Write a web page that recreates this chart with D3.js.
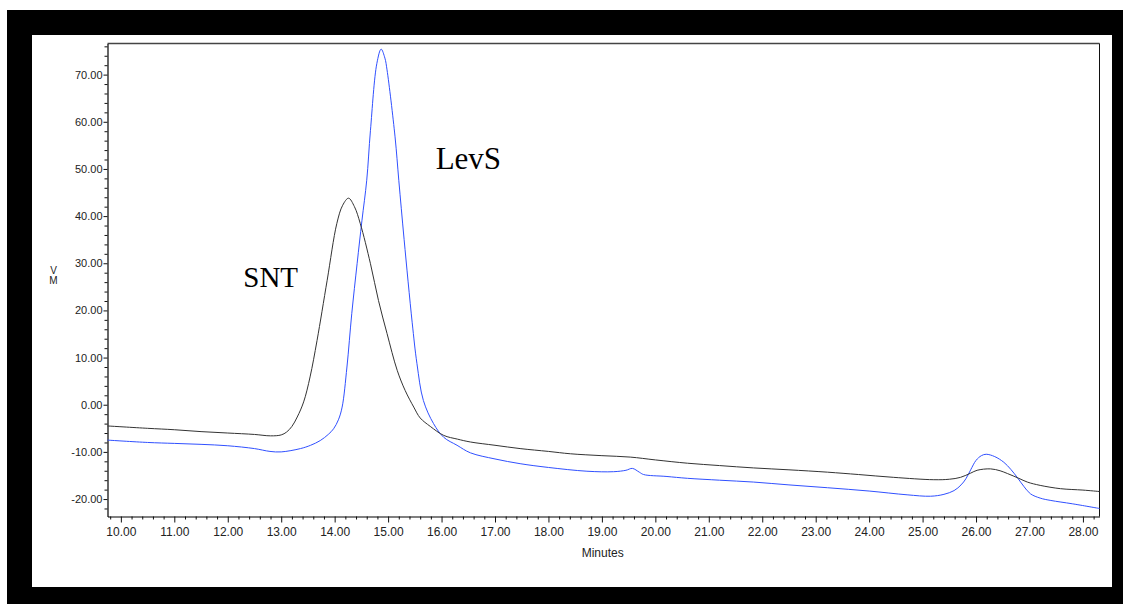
<!DOCTYPE html>
<html>
<head>
<meta charset="utf-8">
<script src="https://cdn.jsdelivr.net/npm/d3@7"></script>
<style>
  html, body { margin: 0; padding: 0; background: #fff; }
  svg { display: block; }
</style>
</head>
<body>
<svg id="chart" width="1123" height="604"></svg>
<script>
// ---- data ----
const snt_t = [9.75, 10.5, 11.0, 11.5, 12.0, 12.5, 12.8, 13.0, 13.1, 13.2, 13.3, 13.42, 13.54, 13.67, 13.86, 14.04, 14.15, 14.26, 14.37, 14.48, 14.67, 14.82, 14.98, 15.17, 15.32, 15.48, 15.6, 15.79, 16.04, 16.3, 16.54, 17.0, 17.47, 18.0, 18.41, 19.0, 19.53, 20.0, 20.6, 21.2, 21.84, 22.5, 23.22, 23.8, 24.46, 25.21, 25.5, 25.71, 25.9, 26.02, 26.27, 26.45, 26.59, 26.8, 26.96, 27.2, 27.58, 28.0, 28.31];
const snt_v = [-4.5, -5.0, -5.3, -5.7, -6.0, -6.3, -6.6, -6.4, -5.8, -4.6, -2.6, 0.6, 5.9, 13.6, 26.4, 38.4, 42.3, 43.8, 42.0, 38.4, 29.9, 22.1, 15.1, 7.3, 3.0, -0.5, -2.8, -4.6, -6.5, -7.3, -7.9, -8.6, -9.3, -9.9, -10.4, -10.8, -11.1, -11.7, -12.4, -12.9, -13.4, -13.8, -14.3, -14.8, -15.4, -15.9, -15.8, -15.4, -14.5, -13.9, -13.6, -14.0, -14.6, -15.6, -16.4, -17.1, -17.8, -18.1, -18.4];

const levs_t = [9.75, 10.5, 11.0, 11.5, 12.0, 12.5, 12.79, 13.0, 13.36, 13.55, 13.73, 13.88, 13.98, 14.07, 14.14, 14.23, 14.32, 14.42, 14.51, 14.6, 14.67, 14.79, 14.87, 14.94, 14.98, 15.13, 15.2, 15.3, 15.45, 15.54, 15.66, 15.85, 16.04, 16.29, 16.54, 17.0, 17.47, 18.0, 18.72, 19.22, 19.45, 19.57, 19.7, 19.78, 20.2, 20.6, 21.2, 21.84, 22.5, 23.22, 24.0, 24.71, 25.15, 25.4, 25.59, 25.72, 25.81, 25.9, 26.0, 26.1, 26.19, 26.35, 26.52, 26.65, 26.77, 26.9, 27.02, 27.2, 27.4, 27.8, 28.31];
const levs_v = [-7.5, -8.0, -8.2, -8.4, -8.7, -9.3, -9.9, -10.0, -9.3, -8.6, -7.6, -6.3, -5.1, -3.2, -0.5, 8.0, 19.3, 29.9, 39.0, 47.6, 58.2, 72.4, 75.4, 73.5, 71.0, 56.8, 47.6, 35.0, 17.5, 8.7, 0.9, -4.0, -6.9, -8.6, -10.2, -11.5, -12.5, -13.3, -14.1, -14.2, -13.9, -13.5, -14.3, -14.8, -15.2, -15.6, -16.0, -16.4, -17.0, -17.6, -18.3, -19.1, -19.4, -19.0, -18.2, -17.0, -15.7, -13.8, -11.8, -10.8, -10.5, -11.0, -12.2, -13.7, -15.4, -17.4, -18.9, -19.8, -20.3, -21.0, -22.0];

const xMajorTicks = [10, 11, 12, 13, 14, 15, 16, 17, 18, 19, 20, 21, 22, 23, 24, 25, 26, 27, 28];
const yMajorTicks = [-20, -10, 0, 10, 20, 30, 40, 50, 60, 70];
const xTitle = "Minutes";
const yTitle = ["V", "M"];
const labels = [
  { text: "SNT", t: 12.29, v: 24.9, size: 29 },
  { text: "LevS", t: 15.89, v: 49.9, size: 31 }
];

// ---- drawing ----
const svg = d3.select("#chart");

// frame
svg.append("rect").attr("x", 7).attr("y", 10).attr("width", 1116).attr("height", 594).attr("fill", "#000");
svg.append("rect").attr("x", 32).attr("y", 35).attr("width", 1080).attr("height", 552).attr("fill", "#fff");

const L = 107.5, R = 1099.5, T = 43.5, B = 516.5;
const x = d3.scaleLinear().domain([9.75, 28.31]).range([L, R]);
const y = d3.scaleLinear().domain([-23.7, 76.6]).range([B, T]);

const fmt = d => d.toFixed(2);

// plot border (top, right)
svg.append("line").attr("x1", L).attr("x2", R).attr("y1", T).attr("y2", T)
  .attr("stroke", "#444").attr("stroke-width", 1.6);
svg.append("line").attr("x1", R).attr("x2", R).attr("y1", T).attr("y2", B)
  .attr("stroke", "#111").attr("stroke-width", 1);

// minor ticks
const xMinor = d3.range(9.8, 28.31, 0.2).filter(v => Math.abs(v - Math.round(v)) > 0.01);
const yMinor = d3.range(-22, 77, 2).filter(v => v % 10 !== 0);

const gxMinor = svg.append("g").attr("transform", `translate(0,${B})`)
  .call(d3.axisBottom(x).tickValues(xMinor).tickSize(3).tickSizeOuter(0).tickFormat(""));
gxMinor.select(".domain").remove();
const gyMinor = svg.append("g").attr("transform", `translate(${L},0)`)
  .call(d3.axisLeft(y).tickValues(yMinor).tickSize(3).tickSizeOuter(0).tickFormat(""));
gyMinor.select(".domain").remove();

const gx = svg.append("g").attr("transform", `translate(0,${B})`)
  .call(d3.axisBottom(x).tickValues(xMajorTicks).tickSize(6).tickPadding(5).tickSizeOuter(0).tickFormat(fmt));
gx.selectAll("text").attr("font-family", "'Liberation Sans Narrow', 'Arial Narrow', 'Liberation Sans', sans-serif")
  .attr("font-size", 12).attr("fill", "#222");

const gy = svg.append("g").attr("transform", `translate(${L},0)`)
  .call(d3.axisLeft(y).tickValues(yMajorTicks).tickSize(4).tickPadding(1).tickSizeOuter(0).tickFormat(fmt));
gy.selectAll("text").attr("font-family", "'Liberation Sans', Arial, sans-serif")
  .attr("font-size", 11).attr("fill", "#222");

[gx, gy, gxMinor, gyMinor].forEach(g => {
  g.selectAll("line").attr("stroke", "#111");
  g.select(".domain").attr("stroke", "#000").attr("stroke-width", 1.2);
});

// axis titles
svg.append("text").attr("x", 602.7).attr("y", 557)
  .attr("text-anchor", "middle")
  .attr("font-family", "'Liberation Sans Narrow', 'Arial Narrow', 'Liberation Sans', sans-serif")
  .attr("font-size", 12).attr("fill", "#222").text(xTitle);
yTitle.forEach((s, i) => {
  svg.append("text").attr("x", 53.5).attr("y", 274 + i * 10)
    .attr("text-anchor", "middle")
    .attr("font-family", "'Liberation Sans', Arial, sans-serif")
    .attr("font-size", 10).attr("fill", "#222").text(s);
});

// series
const line = d3.line().x(d => x(d[0])).y(d => y(d[1])).curve(d3.curveCatmullRom.alpha(0.5));
const sntData = snt_t.map((t, i) => [t, snt_v[i]]);
const levsData = levs_t.map((t, i) => [t, levs_v[i]]);

svg.append("path").datum(levsData).attr("d", line)
  .attr("fill", "none").attr("stroke", "#3050ff").attr("stroke-width", 1);
svg.append("path").datum(sntData).attr("d", line)
  .attr("fill", "none").attr("stroke", "#333").attr("stroke-width", 1);

// annotations
labels.forEach(l => {
  svg.append("text").attr("x", x(l.t)).attr("y", y(l.v))
    .attr("font-family", "'Liberation Serif', 'Times New Roman', serif")
    .attr("font-size", l.size).attr("fill", "#000").text(l.text);
});
</script>
</body>
</html>
